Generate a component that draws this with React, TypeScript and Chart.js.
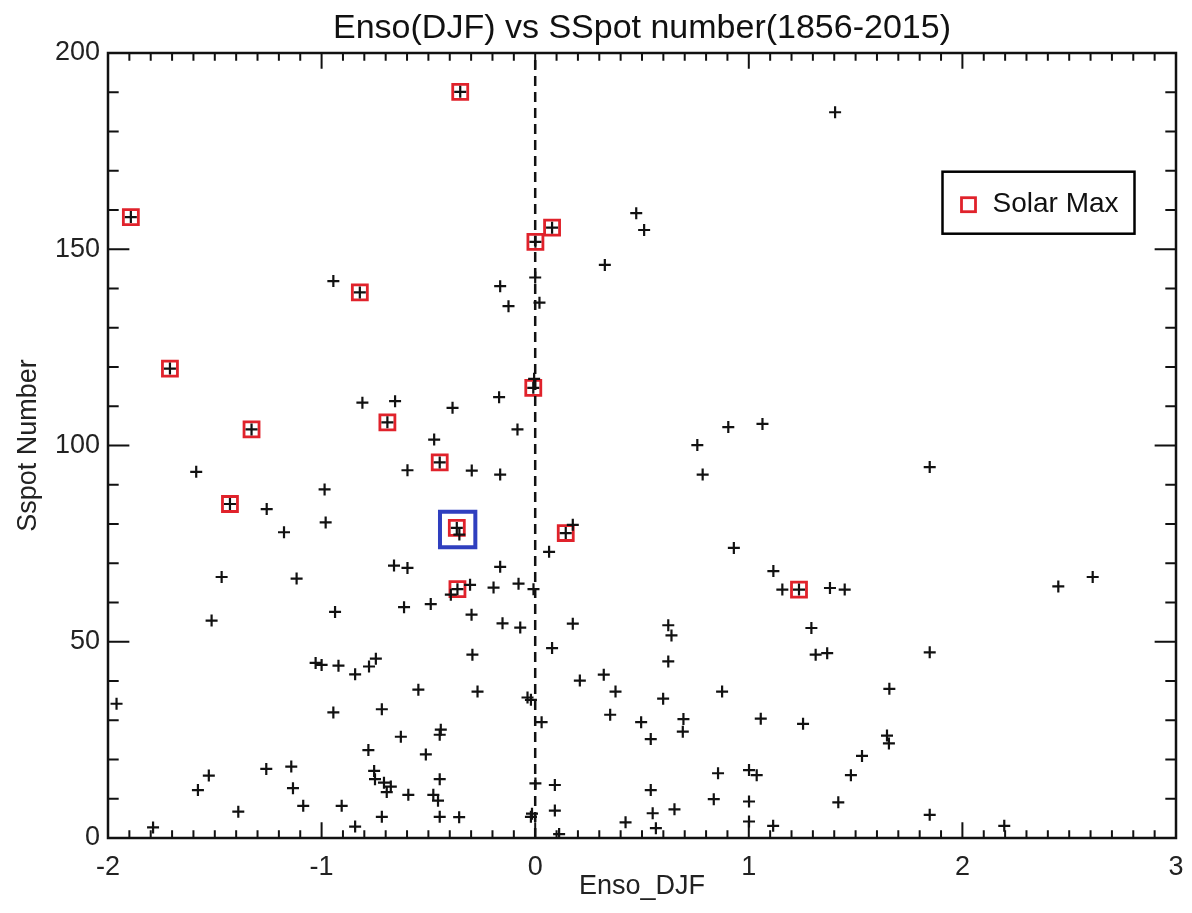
import React, { useEffect, useRef } from "react";
import { Chart, registerables } from "chart.js";

Chart.register(...registerables);

const TITLE = "Enso(DJF) vs SSpot number(1856-2015)";
const X_LABEL = "Enso_DJF";
const Y_LABEL = "Sspot Number";
const LEGEND_LABEL = "Solar Max";

const X_MIN = -2;
const X_MAX = 3;
const X_STEP = 1;
const X_MINOR = 0.1;
const Y_MIN = 0;
const Y_MAX = 200;
const Y_STEP = 50;
const Y_MINOR = 10;

// All years: ENSO (DJF) index and sunspot number
const ensoDJF = [
  -0.351, 1.404, -1.893, 0.473, 0.51, 0.079, 0.001, 0.326, -0.945, -0.821,
  -0.164, 0.0, -0.125, 0.02, -1.71, -0.009, -0.005, -0.169, -0.809, -0.656,
  -0.387, -0.692, -1.328, -0.083, 0.904, 1.064, -0.473, 0.759, -0.447, -1.587,
  -0.598, -0.297, -0.164, 0.784, 1.847, -0.986, -1.429, -1.257, -0.981, -1.176,
  -0.367, -0.355, 0.143, 0.176, 0.065, 0.93, -0.661, -0.598, -0.164, 1.115,
  -1.468, -1.117, 2.61, 2.449, -0.364, -0.395, -0.305, -0.195, -0.078, -0.008,
  1.157, 1.235, 1.38, 1.449, -0.937, -0.614, -0.489, -1.515, -0.298, -0.153,
  -0.07, 0.176, 0.623, 0.638, 1.293, 0.079, -0.294, 0.623, 1.313, 1.367,
  1.847, -1.028, -1.0, -0.921, -0.843, -0.778, -0.746, 0.321, 0.209, -0.547,
  -0.27, 0.376, 0.875, 1.658, -0.036, -0.02, 0.599, -1.96, -0.945, -0.718,
  0.351, 0.03, 0.496, 0.694, 0.691, 1.056, 1.254, -0.629, -0.442, -0.447,
  0.541, 1.647, 1.656, -0.781, -0.512, 1.53, -1.259, -1.142, -1.528, -0.754,
  -0.75, -0.708, -0.676, -0.695, -0.447, 0.001, 0.092, 0.856, 1.001, 1.037,
  1.478, -1.579, -1.134, 0.541, -0.594, -0.477, -0.455, 0.836, 1.001, 1.419,
  -1.086, -0.906, -1.39, 0.092, 0.55, 0.652, -0.718, -0.447, -0.356, -0.02,
  -0.015, 1.847, 0.423, 1.001, -1.789, -0.843, 0.565, 1.114, 2.196, 0.112,
];
const sunspots = [
  190.1, 184.9, 158.2, 159.2, 154.9, 155.5, 151.9, 146, 141.9, 139,
  140.6, 142.8, 135.5, 136.4, 119.6, 114.7, 117, 112.3, 110.9, 111.3,
  109.6, 105.9, 104.1, 104.1, 104.7, 105.5, 101.5, 100.1, 95.7, 93.3,
  93.7, 93.6, 92.6, 92.6, 94.5, 88.8, 85.1, 83.8, 80.4, 77.9,
  79, 77.3, 77.7, 79.8, 72.9, 73.9, 69.4, 68.8, 69.1, 68,
  66.5, 66.1, 66.5, 64.1, 63.4, 62, 64.5, 63.8, 64.8, 63.4,
  63.3, 63.3, 63.7, 63.3, 57.6, 58.8, 59.6, 55.4, 56.9, 54.7,
  53.6, 54.6, 54.2, 51.6, 53.5, 48.4, 46.7, 45, 46.7, 47.1,
  47.3, 44.6, 44.1, 43.9, 41.7, 43.7, 45.7, 41.6, 40.1, 37.8,
  37.3, 37.3, 37.3, 38, 35.8, 35.2, 35.5, 34.2, 32, 32.8,
  31.4, 29.5, 29.5, 30.3, 27.1, 30.4, 29.1, 25.8, 27.6, 26.3,
  25.2, 26.1, 24.1, 22.4, 21.3, 20.9, 17.6, 18.2, 15.9, 17.1,
  15, 14.1, 13.1, 11.7, 15, 13.9, 13.5, 16.5, 17.3, 16,
  16, 12.2, 12.7, 12.2, 11, 11, 9.5, 9.9, 9.3, 9.1,
  8.2, 8.2, 6.7, 7, 6.3, 7.3, 5.4, 5.4, 5.3, 5.4,
  6.2, 5.9, 4, 4.2, 2.7, 2.9, 2.5, 3.1, 3.1, 1,
];

// Solar maximum years
const solarMaxEnso = [
  -0.351, -1.893, 0.079, 0.001, -0.821, -1.71, -0.009, -0.692, -1.328, -0.447,
  -1.429, -0.367, 0.143, -0.364, 1.235,
];
const solarMaxSpots = [
  190.1, 158.2, 155.5, 151.9, 139, 119.6, 114.7, 105.9, 104.1, 95.7,
  85.1, 79, 77.7, 63.4, 63.3,
];

// Highlighted year
const highlightEnso = [-0.363];
const highlightSpots = [78.6];

// Zero reference line
const zeroLineEnso = [0, 0];
const zeroLineSpots = [Y_MIN, Y_MAX];

const RED = "#e0222b";
const BLUE = "#2f3fbf";
const FONT = "'Liberation Sans', Arial, Helvetica, sans-serif";

const toPoints = (xs: number[], ys: number[]) => xs.map((x, i) => ({ x, y: ys[i] }));

const framePlugin = {
  id: "idlFrame",
  afterLayout(chart: any) {
    const tb = chart.titleBlock;
    if (tb) {
      tb.left = chart.chartArea.left;
      tb.right = chart.chartArea.right;
    }
  },
  afterDatasetsDraw(chart: any) {
    const { ctx, chartArea: a, scales } = chart;
    const xs = scales.x;
    const ys = scales.y;
    const w = a.right - a.left;
    const h = a.bottom - a.top;
    ctx.save();
    ctx.strokeStyle = "#111";
    ctx.lineWidth = 2;
    ctx.beginPath();
    const nx = Math.round((X_MAX - X_MIN) / X_MINOR);
    const xRatio = Math.round(X_STEP / X_MINOR);
    for (let i = 1; i < nx; i++) {
      const px = xs.getPixelForValue(X_MIN + i * X_MINOR);
      const L = i % xRatio === 0 ? 0.02 * h : 0.01 * h;
      ctx.moveTo(px, a.bottom);
      ctx.lineTo(px, a.bottom - L);
      ctx.moveTo(px, a.top);
      ctx.lineTo(px, a.top + L);
    }
    const ny = Math.round((Y_MAX - Y_MIN) / Y_MINOR);
    const yRatio = Math.round(Y_STEP / Y_MINOR);
    for (let i = 1; i < ny; i++) {
      const py = ys.getPixelForValue(Y_MIN + i * Y_MINOR);
      const L = i % yRatio === 0 ? 0.02 * w : 0.01 * w;
      ctx.moveTo(a.left, py);
      ctx.lineTo(a.left + L, py);
      ctx.moveTo(a.right, py);
      ctx.lineTo(a.right - L, py);
    }
    ctx.stroke();
    ctx.lineWidth = 2.5;
    ctx.strokeRect(a.left, a.top, w, h);

    // legend
    const bw = 192;
    const bh = 62;
    const bx = a.right - 41.5 - bw;
    const by = a.top + 118.7;
    ctx.lineWidth = 2.5;
    ctx.strokeStyle = "#000";
    ctx.fillStyle = "#fff";
    ctx.fillRect(bx, by, bw, bh);
    ctx.strokeRect(bx, by, bw, bh);
    const my = by + 33;
    ctx.strokeStyle = RED;
    ctx.lineWidth = 2.8;
    ctx.strokeRect(bx + 26 - 7, my - 7, 14, 14);
    ctx.fillStyle = "#111";
    ctx.font = `28px ${FONT}`;
    ctx.textBaseline = "middle";
    ctx.textAlign = "left";
    ctx.fillText(LEGEND_LABEL, bx + 50, my);
    ctx.restore();
  },
};

export default function App() {
  const canvasRef = useRef<HTMLCanvasElement | null>(null);

  useEffect(() => {
    if (!canvasRef.current) return;
    const chart = new Chart(canvasRef.current, {
      type: "scatter",
      data: {
        datasets: [
          {
            type: "line",
            label: "zero",
            data: toPoints(zeroLineEnso, zeroLineSpots),
            borderColor: "#111",
            borderWidth: 2.5,
            borderDash: [10, 6],
            pointRadius: 0,
            fill: false,
          } as any,
          {
            label: "All years",
            data: toPoints(ensoDJF, sunspots),
            pointStyle: "cross",
            pointRadius: 6,
            borderColor: "#111",
            borderWidth: 2.2,
            backgroundColor: "#111",
          },
          {
            label: LEGEND_LABEL,
            data: toPoints(solarMaxEnso, solarMaxSpots),
            pointStyle: "rect",
            pointRadius: 10.6,
            borderColor: RED,
            borderWidth: 2.8,
            backgroundColor: "rgba(0,0,0,0)",
          },
          {
            label: "Highlight",
            data: toPoints(highlightEnso, highlightSpots),
            pointStyle: "rect",
            pointRadius: 25,
            borderColor: BLUE,
            borderWidth: 4,
            backgroundColor: "rgba(0,0,0,0)",
          },
        ],
      },
      options: {
        animation: false,
        responsive: false,
        devicePixelRatio: 1,
        layout: { padding: { left: 0, right: 16, top: 0, bottom: 0 }, autoPadding: false },
        plugins: {
          legend: { display: false },
          tooltip: { enabled: false },
          title: {
            display: true,
            text: TITLE,
            color: "#111",
            font: { family: FONT, size: 34, weight: "normal" },
            padding: { top: 8, bottom: 4.2 },
          },
        },
        scales: {
          x: {
            type: "linear",
            min: X_MIN,
            max: X_MAX,
            ticks: {
              stepSize: X_STEP,
              color: "#222",
              font: { family: FONT, size: 27 },
              padding: 13,
            },
            grid: { display: false, drawTicks: false },
            border: { display: false },
            title: {
              display: true,
              text: X_LABEL,
              color: "#222",
              font: { family: FONT, size: 27 },
              padding: { top: 0, bottom: 10 },
            },
            afterFit: (s: any) => {
              s.height = 75;
              s.paddingLeft = 0;
              s.paddingRight = 0;
            },
          },
          y: {
            type: "linear",
            min: Y_MIN,
            max: Y_MAX,
            ticks: {
              stepSize: Y_STEP,
              color: "#222",
              font: { family: FONT, size: 27 },
              padding: 8,
            },
            grid: { display: false, drawTicks: false },
            border: { display: false },
            title: {
              display: true,
              text: Y_LABEL,
              color: "#222",
              font: { family: FONT, size: 27 },
              padding: { top: 12, bottom: 0 },
            },
            afterFit: (s: any) => {
              s.width = 108;
              s.paddingTop = 0;
              s.paddingBottom = 0;
            },
          },
        },
      },
      plugins: [framePlugin],
    });
    return () => chart.destroy();
  }, []);

  return (
    <div style={{ position: "fixed", left: 0, top: 0, width: 1192, height: 913, background: "#fff" }}>
      <canvas ref={canvasRef} width={1192} height={913} />
    </div>
  );
}
